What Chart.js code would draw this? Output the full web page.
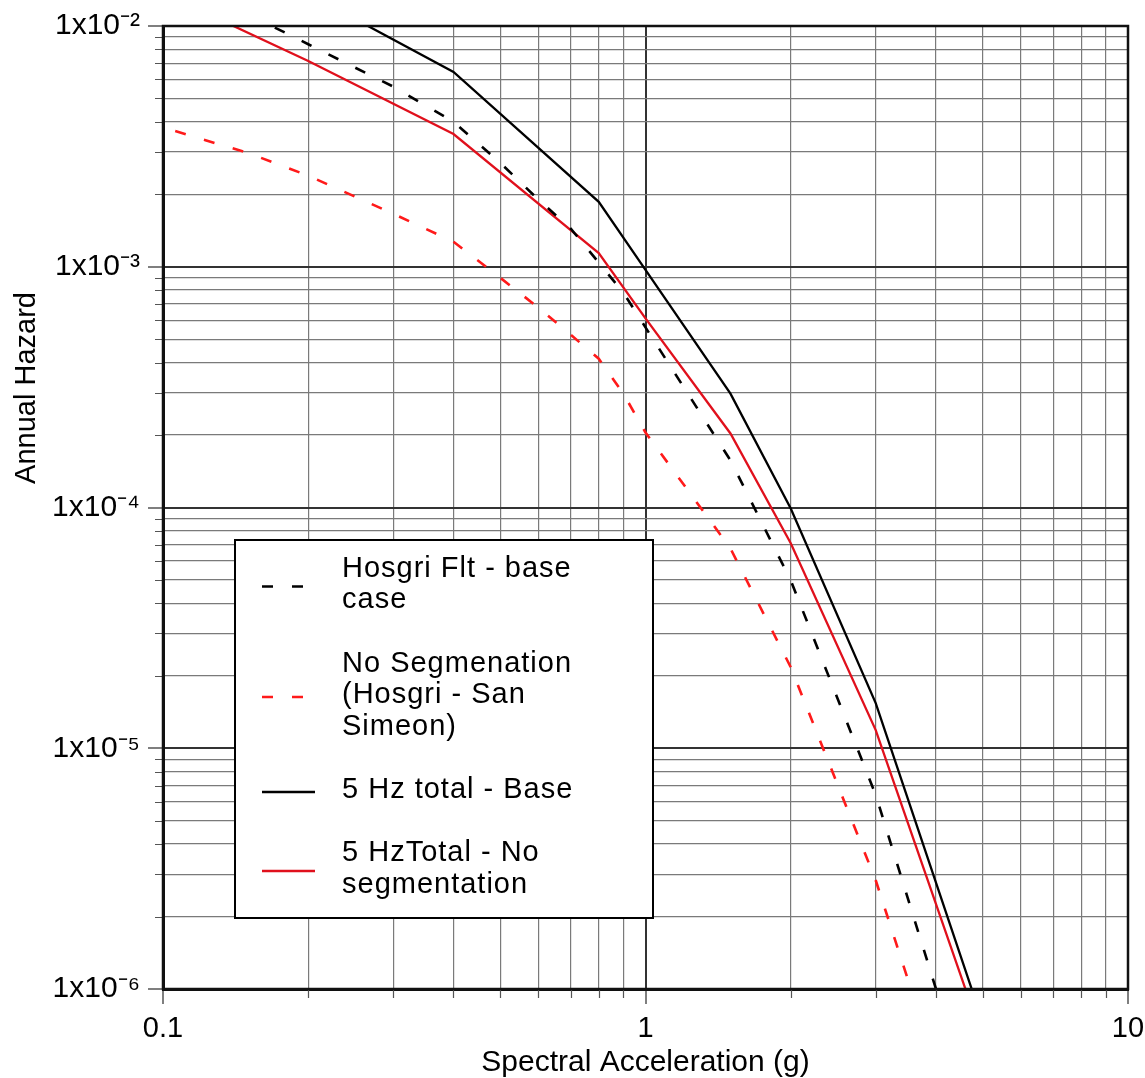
<!DOCTYPE html>
<html>
<head>
<meta charset="utf-8">
<title>Annual Hazard vs Spectral Acceleration</title>
<script src="https://cdn.jsdelivr.net/npm/chart.js@4.4.1/dist/chart.umd.min.js"></script>
<style>
  html, body { margin: 0; padding: 0; background: #fff; }
  #wrap { width: 1145px; height: 1078px; }
</style>
</head>
<body>
<div id="wrap"><canvas id="hazardChart" width="1145" height="1078"></canvas></div>
<script>
// Values
const hosgriBaseX = [0.15, 0.2, 0.3, 0.4, 0.5, 0.6, 0.7, 0.8, 0.9, 1, 1.5, 2, 3, 4];
const hosgriBaseY = [0.0112, 0.0084, 0.0056, 0.0040, 0.0027, 0.0019, 0.00144, 0.00104, 0.00078, 0.00056, 0.000157, 0.0000498, 0.0000064, 0.000001];

const noSegX = [0.106, 0.15, 0.2, 0.3, 0.4, 0.5, 0.6, 0.7, 0.8, 0.9, 1, 1.5, 2, 3, 3.55];
const noSegY = [0.00366, 0.00297, 0.00239, 0.00166, 0.00127, 0.0009, 0.000676, 0.000522, 0.000415, 0.000297, 0.000205, 0.0000676, 0.0000217, 0.00000283, 0.000001];

const totalBaseX = [0.2, 0.4, 0.8, 1, 1.5, 2, 3, 5];
const totalBaseY = [0.0136, 0.00644, 0.00186, 0.00097, 0.000297, 0.000099, 0.0000154, 0.00000073];

const totalNoSegX = [0.1, 0.2, 0.4, 0.8, 1, 1.5, 2, 3, 5];
const totalNoSegY = [0.0137, 0.00716, 0.00356, 0.00114, 0.00061, 0.000203, 0.000071, 0.0000119, 0.00000062];

const seriesLabels = [
    ["Hosgri Flt - base", "case"],
    ["No Segmenation", "(Hosgri - San", "Simeon)"],
    ["5 Hz total - Base"],
    ["5 HzTotal - No", "segmentation"]
];

// tick positions: 1..9 in every decade
const decadeTicks = (fromExp, toExp) => {
    const out = [];
    for (let e = fromExp; e < toExp; e++) {
        for (let m = 1; m <= 9; m++) out.push(m * Math.pow(10, e));
    }
    out.push(Math.pow(10, toExp));
    return out;
};
const xTickValues = decadeTicks(-1, 1);
const yTickValues = decadeTicks(-6, -2);

const FONT = "'Liberation Sans', Arial, Helvetica, sans-serif";

const isMajor = (v) => {
    const l = Math.log10(v);
    return Math.abs(l - Math.round(l)) < 1e-6;
};
const SUP = { "-": "\u207B", "0": "\u2070", "1": "\u00B9", "2": "\u00B2", "3": "\u00B3", "4": "\u2074", "5": "\u2075", "6": "\u2076", "7": "\u2077", "8": "\u2078", "9": "\u2079" };
const powLabel = (v) => "1x10" + String(Math.round(Math.log10(v))).split("").map(c => SUP[c]).join("");

const toPoints = (xs, ys) => xs.map((x, i) => ({ x: x, y: ys[i] }));

// draws the frame, minor tick marks, y title and the boxed legend
const decorations = {
    id: "decorations",
    afterDraw(chart) {
        const ctx = chart.ctx;
        const area = chart.chartArea;
        const xs = chart.scales.x, ys = chart.scales.y;
        ctx.save();

        // minor ticks outside the axes
        ctx.strokeStyle = "#555";
        ctx.lineWidth = 1.2;
        ctx.beginPath();
        yTickValues.filter(v => !isMajor(v)).forEach(v => {
            const py = Math.round(ys.getPixelForValue(v)) + 0.5;
            ctx.moveTo(area.left - 8, py);
            ctx.lineTo(area.left, py);
        });
        xTickValues.filter(v => !isMajor(v)).forEach(v => {
            const px = Math.round(xs.getPixelForValue(v)) + 0.5;
            ctx.moveTo(px, area.bottom);
            ctx.lineTo(px, area.bottom + 9);
        });
        ctx.stroke();

        // frame
        ctx.strokeStyle = "#111";
        ctx.lineWidth = 2.5;
        ctx.strokeRect(area.left, area.top, area.right - area.left, area.bottom - area.top);

        // y axis title
        ctx.fillStyle = "#000";
        ctx.font = "29px " + FONT;
        ctx.textAlign = "center";
        ctx.textBaseline = "middle";
        ctx.translate(27, 388);
        ctx.rotate(-Math.PI / 2);
        ctx.fillText("Annual Hazard", 0, 0);
        ctx.restore();

        // legend box
        ctx.save();
        const box = { x: 235, y: 540, w: 418, h: 378 };
        ctx.fillStyle = "#fff";
        ctx.fillRect(box.x, box.y, box.w, box.h);
        ctx.strokeStyle = "#000";
        ctx.lineWidth = 2;
        ctx.strokeRect(box.x, box.y, box.w, box.h);

        const lineH = 31.6;
        let baseline = 576.7;
        ctx.font = "29px " + FONT;
        ctx.letterSpacing = "1px";
        ctx.textAlign = "left";
        ctx.textBaseline = "alphabetic";
        chart.data.datasets.forEach((ds, i) => {
            const lines = seriesLabels[i];
            const last = baseline + (lines.length - 1) * lineH;
            const sy = (baseline + last) / 2 - 6;
            ctx.strokeStyle = ds.borderColor;
            ctx.lineWidth = 2.5;
            ctx.setLineDash(ds.borderDash || []);
            ctx.beginPath();
            ctx.moveTo(262, sy);
            ctx.lineTo(315, sy);
            ctx.stroke();
            ctx.setLineDash([]);
            ctx.fillStyle = "#000";
            lines.forEach((t, k) => ctx.fillText(t, 342, baseline + k * lineH));
            baseline += (lines.length + 1) * lineH;
        });
        ctx.restore();
    }
};

const gridStyle = {
    color: (c) => (c.tick && isMajor(c.tick.value)) ? "#333" : "#7a7a7a",
    lineWidth: (c) => (c.tick && isMajor(c.tick.value)) ? 2 : 1.2,
    tickColor: (c) => (c.tick && isMajor(c.tick.value)) ? "#555" : "rgba(0,0,0,0)",
    tickWidth: 1.5,
    tickLength: 15
};

new Chart(document.getElementById("hazardChart"), {
    type: "line",
    data: {
        datasets: [
            {
                label: seriesLabels[0].join(" "),
                data: toPoints(hosgriBaseX, hosgriBaseY),
                borderColor: "#000",
                borderWidth: 2.6,
                borderDash: [11, 19],
            },
            {
                label: seriesLabels[1].join(" "),
                data: toPoints(noSegX, noSegY),
                borderColor: "#ff1a1a",
                borderWidth: 2.6,
                borderDash: [11, 19],
            },
            {
                label: seriesLabels[2].join(" "),
                data: toPoints(totalBaseX, totalBaseY),
                borderColor: "#000",
                borderWidth: 2.3,
            },
            {
                label: seriesLabels[3].join(" "),
                data: toPoints(totalNoSegX, totalNoSegY),
                borderColor: "#e0101c",
                borderWidth: 2.3,
            },
        ],
    },
    options: {
        responsive: false,
        animation: false,
        layout: { padding: { left: 0, right: 17, top: 25, bottom: 0 } },
        elements: { point: { radius: 0 }, line: { tension: 0 } },
        plugins: {
            legend: { display: false },
            tooltip: { enabled: false },
        },
        scales: {
            x: {
                type: "logarithmic",
                min: 0.1,
                max: 10,
                afterBuildTicks: (scale) => { scale.ticks = xTickValues.map(v => ({ value: v, major: isMajor(v) })); },
                afterFit: (scale) => {
                    scale.height = 89;
                    scale.paddingLeft = 0;
                    scale.paddingRight = 0;
                },
                grid: gridStyle,
                border: { display: true, color: "#111", width: 3 },
                ticks: {
                    autoSkip: false,
                    maxRotation: 0,
                    padding: 8,
                    color: "#000",
                    font: { family: FONT, size: 29 },
                    callback: (v) => isMajor(v) ? String(v) : "",
                },
                title: {
                    display: true,
                    text: "Spectral Acceleration (g)",
                    color: "#000",
                    font: { family: FONT, size: 30 },
                    padding: { top: 0, bottom: -3 },
                },
            },
            y: {
                type: "logarithmic",
                min: 1e-6,
                max: 1e-2,
                afterBuildTicks: (scale) => { scale.ticks = yTickValues.map(v => ({ value: v, major: isMajor(v) })); },
                afterFit: (scale) => { scale.width = 163; },
                grid: gridStyle,
                border: { display: true, color: "#111", width: 3 },
                ticks: {
                    autoSkip: false,
                    padding: 8,
                    color: "#000",
                    font: { family: FONT, size: 30 },
                    callback: (v) => isMajor(v) ? powLabel(v) : "",
                },
            },
        },
    },
    plugins: [decorations],
});
</script>
</body>
</html>
